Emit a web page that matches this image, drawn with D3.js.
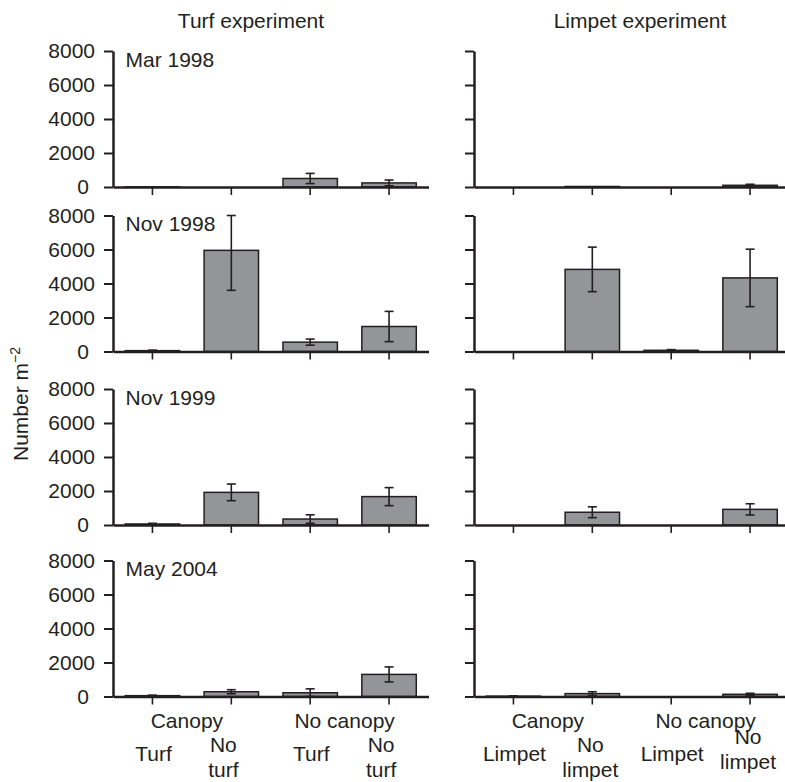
<!DOCTYPE html>
<html>
<head>
<meta charset="utf-8">
<script src="https://cdn.jsdelivr.net/npm/d3@7"></script>
<style>
  body { margin: 0; background: #fff; }
  svg text { font-family: "Liberation Sans", Arial, sans-serif; fill: #231f20; }
</style>
</head>
<body>
<div id="chart"></div>
<script>
// sampling dates (one row each)
var dates = ["Mar 1998", "Nov 1998", "Nov 1999", "May 2004"];

// turf experiment: canopy turf, canopy no turf, no canopy turf, no canopy no turf
var turfMeans  = [[10, 0, 500, 240], [50, 5950, 550, 1470], [60, 1920, 350, 1670], [50, 280, 220, 1300]];
var turfErrors = [[0, 0, 300, 170], [30, 2350, 180, 890], [40, 490, 250, 530], [30, 120, 230, 440]];

// limpet experiment: canopy limpet, canopy no limpet, no canopy limpet, no canopy no limpet
var limpetMeans  = [[0, 30, 0, 100], [0, 4830, 70, 4330], [0, 750, 0, 920], [20, 170, 0, 130]];
var limpetErrors = [[0, 0, 0, 60], [0, 1310, 40, 1690], [0, 320, 0, 330], [10, 110, 0, 60]];

var yTicks = [0, 2000, 4000, 6000, 8000];
var groupLabels = ["Canopy", "No canopy"];
var turfLabels = [["Turf"], ["No", "turf"], ["Turf"], ["No", "turf"]];
var limpetLabels = [["Limpet"], ["No", "limpet"], ["Limpet"], ["No", "limpet"]];

var width = 785, height = 782;
var ink = "#231f20";
var rowTops = [51, 215.5, 389, 560.5];
var rowH = 136;

var svg = d3.select("#chart").append("svg")
    .attr("width", width)
    .attr("height", height);

var panels = [
  { title: "Turf experiment", titleX: 251, x0: 113, means: turfMeans, errs: turfErrors, labels: turfLabels, showY: true, shift2: -8 },
  { title: "Limpet experiment", titleX: 640, x0: 474, means: limpetMeans, errs: limpetErrors, labels: limpetLabels, showY: false, shift2: -2 }
];

panels.forEach(function(p) {
  var x = d3.scaleBand()
      .domain([0, 1, 2, 3])
      .range([p.x0, p.x0 + 315.5])
      .paddingInner(0.31)
      .paddingOuter(0.155);
  var cx = function(i) { return x(i) + x.bandwidth() / 2; };

  svg.append("text")
      .attr("x", p.titleX)
      .attr("y", 27.5)
      .attr("text-anchor", "middle")
      .style("font-size", "21px")
      .text(p.title);

  rowTops.forEach(function(top, r) {
    var y = d3.scaleLinear()
        .domain([0, 8000])
        .range([top + rowH, top])
        .clamp(true);

    var g = svg.append("g");

    // bars
    g.selectAll(".bar")
      .data(p.means[r])
      .enter().append("rect")
        .attr("class", "bar")
        .attr("x", function(d, i) { return x(i); })
        .attr("y", function(d) { return y(d); })
        .attr("width", x.bandwidth())
        .attr("height", function(d) { return y(0) - y(d); })
        .attr("fill", "#939598")
        .attr("stroke", ink)
        .attr("stroke-width", 1.5);

    // error bars
    var eb = p.means[r].map(function(m, i) { return { i: i, m: m, e: p.errs[r][i] }; })
        .filter(function(d) { return d.e > 0; });
    var eg = g.selectAll(".err").data(eb).enter().append("g").attr("class", "err")
        .attr("stroke", ink).attr("stroke-width", 1.6);
    eg.append("line")
        .attr("x1", function(d) { return cx(d.i); })
        .attr("x2", function(d) { return cx(d.i); })
        .attr("y1", function(d) { return y(d.m - d.e); })
        .attr("y2", function(d) { return y(d.m + d.e); });
    eg.append("line")
        .attr("x1", function(d) { return cx(d.i) - 4.5; })
        .attr("x2", function(d) { return cx(d.i) + 4.5; })
        .attr("y1", function(d) { return y(d.m + d.e); })
        .attr("y2", function(d) { return y(d.m + d.e); });
    eg.append("line")
        .attr("x1", function(d) { return cx(d.i) - 4.5; })
        .attr("x2", function(d) { return cx(d.i) + 4.5; })
        .attr("y1", function(d) { return y(Math.max(0, d.m - d.e)); })
        .attr("y2", function(d) { return y(Math.max(0, d.m - d.e)); });

    // y axis
    var yAxis = d3.axisLeft(y)
        .tickValues(yTicks)
        .tickSize(9)
        .tickSizeOuter(0)
        .tickPadding(9)
        .tickFormat(p.showY ? d3.format("d") : "");
    var ya = g.append("g")
        .attr("transform", "translate(" + p.x0 + ",0)")
        .call(yAxis);
    ya.select(".domain").attr("stroke", ink).attr("stroke-width", 2.5);
    ya.selectAll(".tick line").attr("stroke", ink).attr("stroke-width", 2);
    ya.selectAll(".tick text")
        .attr("fill", ink)
        .style("font-size", "21px")
        .style("font-family", "'Liberation Sans', Arial, sans-serif")
        .attr("dx", function(d) { return d === 0 ? -6 : 0; });

    // x axis
    var xAxis = d3.axisBottom(x)
        .tickSize(8)
        .tickSizeOuter(0)
        .tickFormat("");
    var xa = g.append("g")
        .attr("transform", "translate(0," + y(0) + ")")
        .call(xAxis);
    xa.select(".domain").attr("stroke", ink).attr("stroke-width", 2.5);
    xa.selectAll(".tick line").attr("stroke", ink).attr("stroke-width", 1.6);

    if (p.showY) {
      g.append("text")
          .attr("x", p.x0 + 12.5)
          .attr("y", top + 15.5)
          .style("font-size", "21px")
          .text(dates[r]);
    }

    // category labels under the last row
    if (r === rowTops.length - 1) {
      groupLabels.forEach(function(lab, k) {
        g.append("text")
            .attr("x", (cx(2 * k) + cx(2 * k + 1)) / 2 - 5)
            .attr("y", 728)
            .attr("text-anchor", "middle")
            .style("font-size", "21px")
            .text(lab);
      });
      p.labels.forEach(function(lines, i) {
        if (lines.length === 1) {
          g.append("text")
              .attr("x", cx(i) + 1)
              .attr("y", 761)
              .attr("text-anchor", "middle")
              .style("font-size", "21px")
              .text(lines[0]);
        } else {
          lines.forEach(function(line, j) {
            g.append("text")
                .attr("x", cx(i) + p.shift2)
                .attr("y", (i === 3 && !p.showY ? 744 : 752) + j * 25)
                .attr("text-anchor", "middle")
                .style("font-size", "21px")
                .text(line);
          });
        }
      });
    }
  });
});

// y axis title
var yt = svg.append("text")
    .attr("transform", "rotate(-90)")
    .attr("x", -404)
    .attr("y", 28)
    .attr("text-anchor", "middle")
    .style("font-size", "21px");
yt.append("tspan").text("Number m");
yt.append("tspan")
    .attr("dy", -8)
    .style("font-size", "14px")
    .text("\u22122");
</script>
</body>
</html>
